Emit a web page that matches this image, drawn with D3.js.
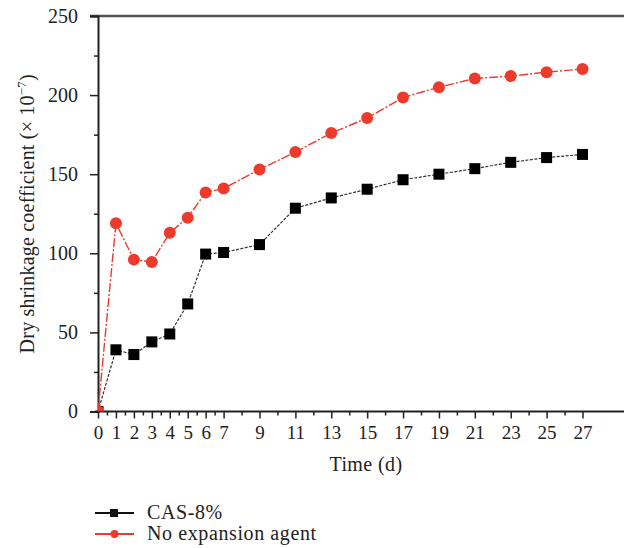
<!DOCTYPE html>
<html>
<head>
<meta charset="utf-8">
<script src="https://cdn.jsdelivr.net/npm/d3@7"></script>
<style>
  html, body { margin: 0; padding: 0; background: #fff; }
  svg { display: block; font-family: "Liberation Serif", "DejaVu Serif", serif; }
</style>
</head>
<body>
<svg id="chart" width="624" height="548"></svg>
<script>
// Curing age (days) at which shrinkage was measured
const days = [0, 1, 2, 3, 4, 5, 6, 7, 9, 11, 13, 15, 17, 19, 21, 23, 25, 27];
// Dry shrinkage coefficient (×10^-7)
const cas8 = [0, 39, 36, 44, 49, 68, 99.5, 100.5, 105.5, 128.5, 135, 140.5, 146.5, 150, 153.5, 157.5, 160.5, 162.5];
const noAgent = [0, 119, 96, 94.5, 113, 122.5, 138.5, 141, 153, 164, 176, 185.5, 198.5, 205, 210.5, 212, 214.5, 216.5];
const seriesNames = ["CAS-8%", "No expansion agent"];
// Axis ticks
const xLabelTicks = [0, 1, 2, 3, 4, 5, 6, 7, 9, 11, 13, 15, 17, 19, 21, 23, 25, 27];
const xMinorTicks = [0.5, 1.5, 2.5, 3.5, 4.5, 5.5, 6.5, 8, 10, 12, 14, 16, 18, 20, 22, 24, 26];
const yTicks = [0, 50, 100, 150, 200, 250];
const yMinorTicks = [25, 75, 125, 175, 225];

const svg = d3.select("#chart");
const x = d3.scaleLinear().domain([0, 27]).range([98, 582.5]);
const y = d3.scaleLinear().domain([0, 250]).range([411.5, 16]);
const xEnd = 624;

const axisColor = "#222";
const fontFam = "Liberation Serif, serif";

// Plot area clip so markers sitting on the axes are cut at the frame
svg.append("defs").append("clipPath").attr("id", "plot-clip")
  .append("rect").attr("x", x(0)).attr("y", y(250)).attr("width", xEnd - x(0)).attr("height", y(0) - y(250));

// Frame: bottom and top lines run to the right edge
svg.append("line").attr("x1", x(0) - 3).attr("x2", xEnd).attr("y1", y(0)).attr("y2", y(0))
  .attr("stroke", axisColor).attr("stroke-width", 2);
svg.append("line").attr("x1", 90).attr("x2", xEnd).attr("y1", y(250)).attr("y2", y(250))
  .attr("stroke", "#555").attr("stroke-width", 2.4);

// Y axis
const yAxis = svg.append("g").attr("transform", `translate(${x(0)},0)`)
  .call(d3.axisLeft(y).tickValues(yTicks).tickSize(8).tickPadding(12));
yAxis.select(".domain").attr("stroke", axisColor).attr("stroke-width", 2);
yAxis.selectAll(".tick line").attr("stroke", axisColor).attr("stroke-width", 1.5);
yAxis.selectAll(".tick text").attr("font-size", 20).attr("fill", "#222")
  .attr("font-family", fontFam);
svg.append("g").attr("transform", `translate(${x(0)},0)`)
  .call(d3.axisLeft(y).tickValues(yMinorTicks).tickSize(4).tickFormat(""))
  .call(g => g.select(".domain").remove())
  .call(g => g.selectAll(".tick line").attr("stroke", axisColor).attr("stroke-width", 1.5));

// X axis
const xAxis = svg.append("g").attr("transform", `translate(0,${y(0)})`)
  .call(d3.axisBottom(x).tickValues(xLabelTicks).tickSize(7).tickPadding(7));
xAxis.select(".domain").remove();
xAxis.selectAll(".tick line").attr("stroke", axisColor).attr("stroke-width", 1.5);
xAxis.selectAll(".tick text").attr("font-size", 19).attr("fill", "#222")
  .attr("font-family", fontFam);
svg.append("g").attr("transform", `translate(0,${y(0)})`)
  .call(d3.axisBottom(x).tickValues(xMinorTicks).tickSize(4).tickFormat(""))
  .call(g => g.select(".domain").remove())
  .call(g => g.selectAll(".tick line").attr("stroke", axisColor).attr("stroke-width", 1.5));

// Axis titles
svg.append("text").attr("x", 366).attr("y", 471).attr("text-anchor", "middle")
  .attr("font-size", 20).attr("letter-spacing", 0.4).attr("fill", "#222").text("Time (d)");
const yTitle = svg.append("text")
  .attr("transform", `translate(34,${(y(0) + y(250)) / 2}) rotate(-90)`)
  .attr("text-anchor", "middle").attr("font-size", 20).attr("letter-spacing", 0.2).attr("fill", "#222");
yTitle.append("tspan").text("Dry shrinkage coefficient (× 10");
yTitle.append("tspan").attr("dy", -8).attr("font-size", 13).text("−7");
yTitle.append("tspan").attr("dy", 8).text(")");

const red = "#ec3b2b";
const line = d3.line().x((d, i) => x(days[i])).y(d => y(d));
const plot = svg.append("g").attr("clip-path", "url(#plot-clip)");

// CAS-8% series
plot.append("path").datum(cas8).attr("d", line).attr("fill", "none")
  .attr("stroke", "#333").attr("stroke-width", 1.2).attr("stroke-dasharray", "3,1.5");
plot.append("g").selectAll("rect").data(cas8).join("rect")
  .attr("x", (d, i) => x(days[i]) - 5.5).attr("y", d => y(d) - 5.5)
  .attr("width", 11).attr("height", 11).attr("fill", "#000");

// No expansion agent series
plot.append("path").datum(noAgent).attr("d", line).attr("fill", "none")
  .attr("stroke", red).attr("stroke-width", 1.4).attr("stroke-dasharray", "9,2,2,2");
plot.append("g").selectAll("circle").data(noAgent).join("circle")
  .attr("cx", (d, i) => x(days[i])).attr("cy", d => y(d)).attr("r", 6)
  .attr("fill", red);

// Legend
const legend = svg.append("g");
const legendRows = [
  { name: seriesNames[0], color: "#111", shape: "square", yy: 513 },
  { name: seriesNames[1], color: red, shape: "circle", yy: 534 }
];
legendRows.forEach(r => {
  legend.append("line").attr("x1", 95).attr("x2", 134).attr("y1", r.yy).attr("y2", r.yy)
    .attr("stroke", r.color).attr("stroke-width", 2);
  if (r.shape === "square") {
    legend.append("rect").attr("x", 110).attr("y", r.yy - 4).attr("width", 8).attr("height", 8)
      .attr("fill", r.color);
  } else {
    legend.append("circle").attr("cx", 114.5).attr("cy", r.yy).attr("r", 4).attr("fill", r.color);
  }
  legend.append("text").attr("x", 147).attr("y", r.yy + 6).attr("font-size", 20)
    .attr("letter-spacing", 0.6).attr("fill", "#222").text(r.name);
});
</script>
</body>
</html>
